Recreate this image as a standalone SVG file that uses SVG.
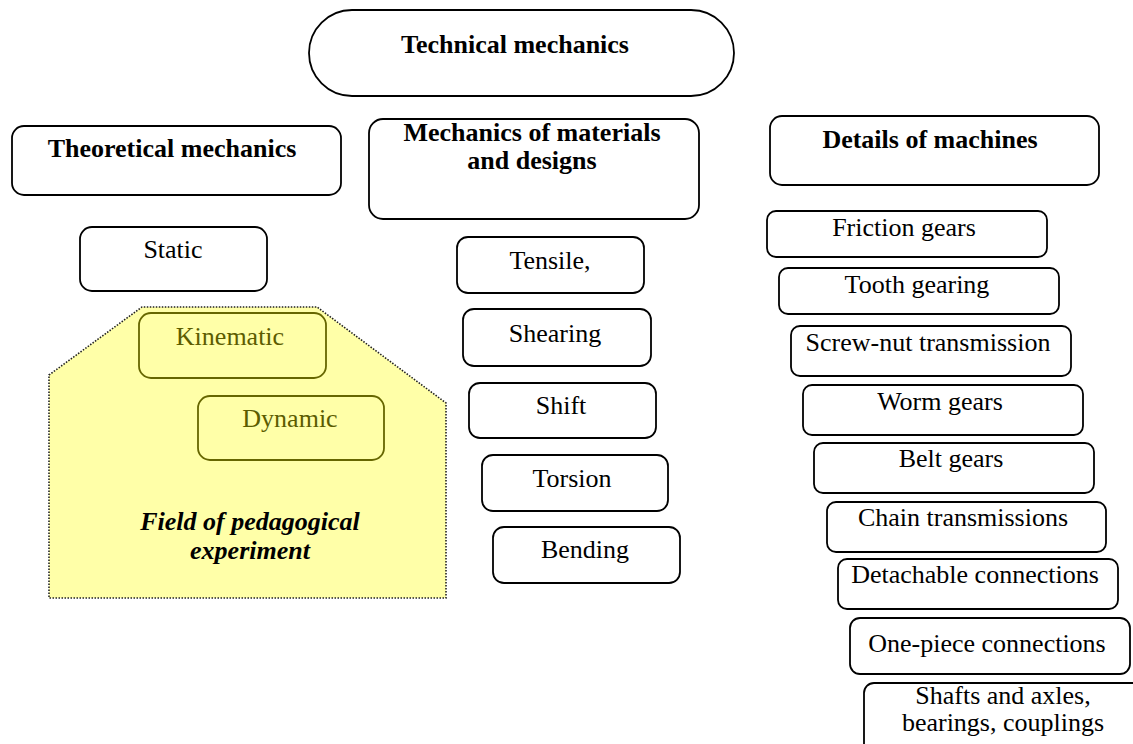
<svg xmlns="http://www.w3.org/2000/svg" width="1133" height="744" viewBox="0 0 1133 744">
<style>
.b{fill:#fff;stroke:#000;stroke-width:1.8}
.t{font-family:"Liberation Serif",Tinos,"Times New Roman","DejaVu Serif","Noto Serif",serif;font-size:26px;fill:#000;text-anchor:middle}
.h{font-weight:bold}
.o{fill:none;stroke:#666600;stroke-width:1.8}
.ot{fill:#5c5c00}
</style>
<rect width="1133" height="744" fill="#fff"/>
<g id="field">
<polygon points="49,375 142,307 317,307 446,403 446,598 49,598" fill="#ffffa8" stroke="#222" stroke-width="1.6" stroke-dasharray="1.5,1.5"/>
<text class="t h" x="250" y="530" font-style="italic">Field of pedagogical</text>
<text class="t h" x="250" y="559" font-style="italic">experiment</text>
</g>
<g id="technical"><rect class="b" x="309" y="10" width="425" height="86" rx="43"/><text class="t h" x="515" y="53">Technical mechanics</text></g>
<g id="theoretical"><rect class="b" x="12" y="126" width="329" height="69" rx="12"/><text class="t h" x="172" y="157">Theoretical mechanics</text></g>
<g id="materials"><rect class="b" x="369" y="119" width="330" height="100" rx="14"/><text class="t h" x="532" y="141">Mechanics of materials</text><text class="t h" x="532" y="169">and designs</text></g>
<g id="details"><rect class="b" x="770" y="116" width="329" height="69" rx="12"/><text class="t h" x="930" y="148">Details of machines</text></g>
<g id="static"><rect class="b" x="80" y="227" width="187" height="64" rx="12"/><text class="t" x="173" y="258">Static</text></g>
<g id="kinematic"><rect class="o" x="139" y="313" width="187" height="65" rx="12"/><text class="t ot" x="230" y="345">Kinematic</text></g>
<g id="dynamic"><rect class="o" x="198" y="396" width="186" height="64" rx="12"/><text class="t ot" x="290" y="427">Dynamic</text></g>
<g id="tensile"><rect class="b" x="457" y="237" width="187" height="56" rx="11"/><text class="t" x="550" y="269">Tensile,</text></g>
<g id="shearing"><rect class="b" x="463" y="309" width="188" height="57" rx="11"/><text class="t" x="555" y="342">Shearing</text></g>
<g id="shift"><rect class="b" x="469" y="383" width="187" height="55" rx="11"/><text class="t" x="561" y="414">Shift</text></g>
<g id="torsion"><rect class="b" x="482" y="455" width="186" height="56" rx="11"/><text class="t" x="572" y="487">Torsion</text></g>
<g id="bending"><rect class="b" x="493" y="527" width="187" height="56" rx="11"/><text class="t" x="585" y="558">Bending</text></g>
<g id="friction"><rect class="b" x="767" y="211" width="280" height="46" rx="9"/><text class="t" x="904" y="236">Friction gears</text></g>
<g id="tooth"><rect class="b" x="779" y="268" width="280" height="46" rx="9"/><text class="t" x="917" y="293">Tooth gearing</text></g>
<g id="screw"><rect class="b" x="791" y="326" width="280" height="50" rx="9"/><text class="t" x="928" y="351">Screw-nut transmission</text></g>
<g id="worm"><rect class="b" x="803" y="385" width="280" height="50" rx="9"/><text class="t" x="940" y="410">Worm gears</text></g>
<g id="belt"><rect class="b" x="814" y="443" width="280" height="50" rx="9"/><text class="t" x="951" y="467">Belt gears</text></g>
<g id="chain"><rect class="b" x="827" y="502" width="279" height="50" rx="9"/><text class="t" x="963" y="526">Chain transmissions</text></g>
<g id="detachable"><rect class="b" x="838" y="559" width="280" height="50" rx="9"/><text class="t" x="975" y="583">Detachable connections</text></g>
<g id="onepiece"><rect class="b" x="850" y="618" width="280" height="56" rx="10"/><text class="t" x="987" y="652">One-piece connections</text></g>
<g id="shafts"><rect class="b" x="864" y="683" width="290" height="80" rx="10"/><text class="t" x="1003" y="704" font-size="24">Shafts and axles,</text><text class="t" x="1003" y="731" font-size="24">bearings, couplings</text></g>
<g id="connectors"></g>
</svg>
